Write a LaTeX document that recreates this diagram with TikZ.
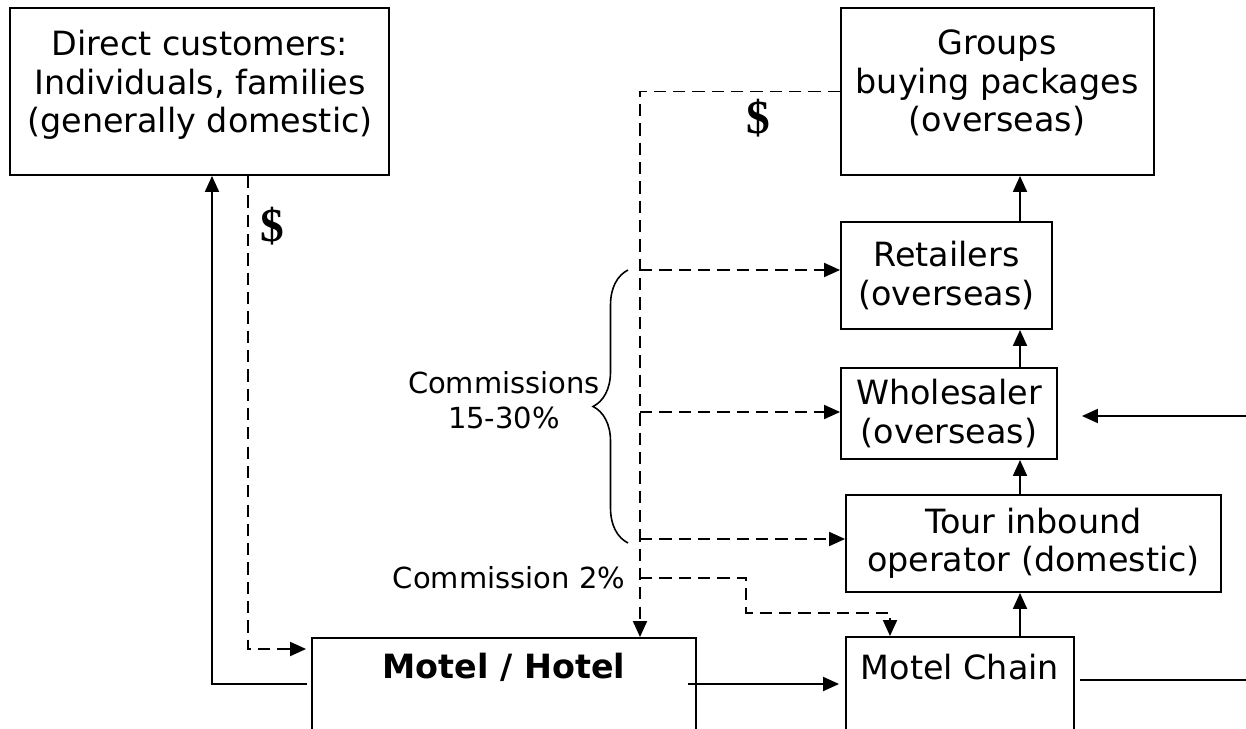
\documentclass[tikz,border=0pt]{standalone}
\usepackage{fontspec}
\setmainfont{DejaVu Sans}
\newfontfamily\dollarfont{Liberation Serif}
\usetikzlibrary{arrows.meta,decorations.pathreplacing}

\begin{document}
\begin{tikzpicture}[x=0.02cm, y=-0.02cm,
		box/.style={draw, line width=1.1pt, inner sep=0pt, align=center, font=\fontsize{19}{21.9}\selectfont},
		lbl/.style={inner sep=0pt, align=center, font=\fontsize{19}{21.9}\selectfont},
		small/.style={inner sep=0pt, align=center, font=\fontsize{16.5}{19.9}\selectfont},
		cash/.style={inner sep=0pt, font=\dollarfont\bfseries\fontsize{27}{30}\selectfont},
		arr/.style={line width=1.1pt, -{Triangle[length=0.32cm,width=0.28cm]}},
		darr/.style={arr, dash pattern=on 7pt off 4pt}]
		\useasboundingbox (0,0) rectangle (1246,729);
		\clip (0,0) rectangle (1246,729);
		% customers
		\node[box, minimum width=7.58cm, minimum height=3.34cm] (dc) at (199.5,91.5) {};
		\node[lbl] (dctext) at (200,85) {Direct customers:\\Individuals, families\\(generally domestic)};
		\node[box, minimum width=6.26cm, minimum height=3.34cm] (grp) at (997.5,91.5) {};
		\node[lbl] (grptext) at (997,83) {Groups\\buying packages\\(overseas)};
		% chain of sellers
		\node[box, minimum width=4.22cm, minimum height=2.14cm] (ret) at (946.5,275.5) {Retailers\\(overseas)};
		\node[box, minimum width=4.32cm, minimum height=1.82cm] (whl) at (949,413.5) {Wholesaler\\(overseas)};
		\node[box, minimum width=7.5cm, minimum height=1.94cm] (tour) at (1033.5,543.5) {Tour inbound\\operator (domestic)};
		% hotels
		\node[box, minimum width=7.68cm, minimum height=3.24cm] (hotel) at (504,719) {};
		\node[lbl, font=\fontsize{19}{21.9}\selectfont\bfseries] (hoteltext) at (504,667) {Motel / Hotel};
		\node[box, minimum width=4.56cm, minimum height=3.26cm] (chain) at (960,718.5) {};
		\node[lbl] (chaintext) at (960,667) {Motel Chain};
		% labels
		\node[cash] (cash1) at (272,226) {\$};
		\node[cash] (cash2) at (758,118) {\$};
		\node[small] (comm) at (504,400) {Commissions\\15-30\%};
		\node[small] (comm2) at (509,578) {Commission 2\%};
		% helper coordinates
		\coordinate (col) at (1020,0);
		\coordinate (xa) at (212,0);
		\coordinate (xb) at (248,0);
		\coordinate (xc) at (640,0);
		\coordinate (xe) at (890,0);
		\coordinate (ly) at (0,684);
		\coordinate (ly2) at (0,649);
		\coordinate (c1) at (640,270);
		\coordinate (c2) at (640,412);
		\coordinate (c3) at (640,539);
		\coordinate (c4) at (640,578);
		\coordinate (c5) at (746,613);
		\coordinate (e1) at (1246,680);
		\coordinate (e2) at (1246,416);
		% up the chain
		\draw[arr] (chain.north -| col) -- (tour.south -| col);
		\draw[arr] (tour.north -| col) -- (whl.south -| col);
		\draw[arr] (whl.north -| col) -- (ret.south -| col);
		\draw[arr] (ret.north -| col) -- (grp.south -| col);
		% direct sales
		\draw[arr, shorten <=0.08cm] (hotel.west |- ly) -| (dc.south -| xa);
		\draw[darr, shorten >=0.1cm] (dc.south -| xb) |- (hotel.west |- ly2);
		% money from groups
		\draw[darr] (grp.west) -| (hotel.north -| xc);
		\draw[darr] (c1) -- (c1 -| ret.west);
		\draw[darr] (c2) -- (c2 -| whl.west);
		\draw[darr] (c3) -- (c3 -| tour.west);
		\draw[darr] (c4) -| (c5) -| (chain.north -| xe);
		\draw[line width=0.9pt, decorate, decoration={brace, amplitude=0.7cm}] (628,543) -- (628,270);
		% hotel to chain and outside
		\draw[arr, shorten >=0.12cm] ([xshift=-0.18cm]hotel.east |- ly) -- (chain.west |- ly);
		\draw[line width=1.1pt, shorten <=0.1cm] (chain.east |- e1) -- (e1);
		\draw[arr, shorten >=0.48cm] (e2) -- (whl.east |- e2);
	\end{tikzpicture}
\end{document}
